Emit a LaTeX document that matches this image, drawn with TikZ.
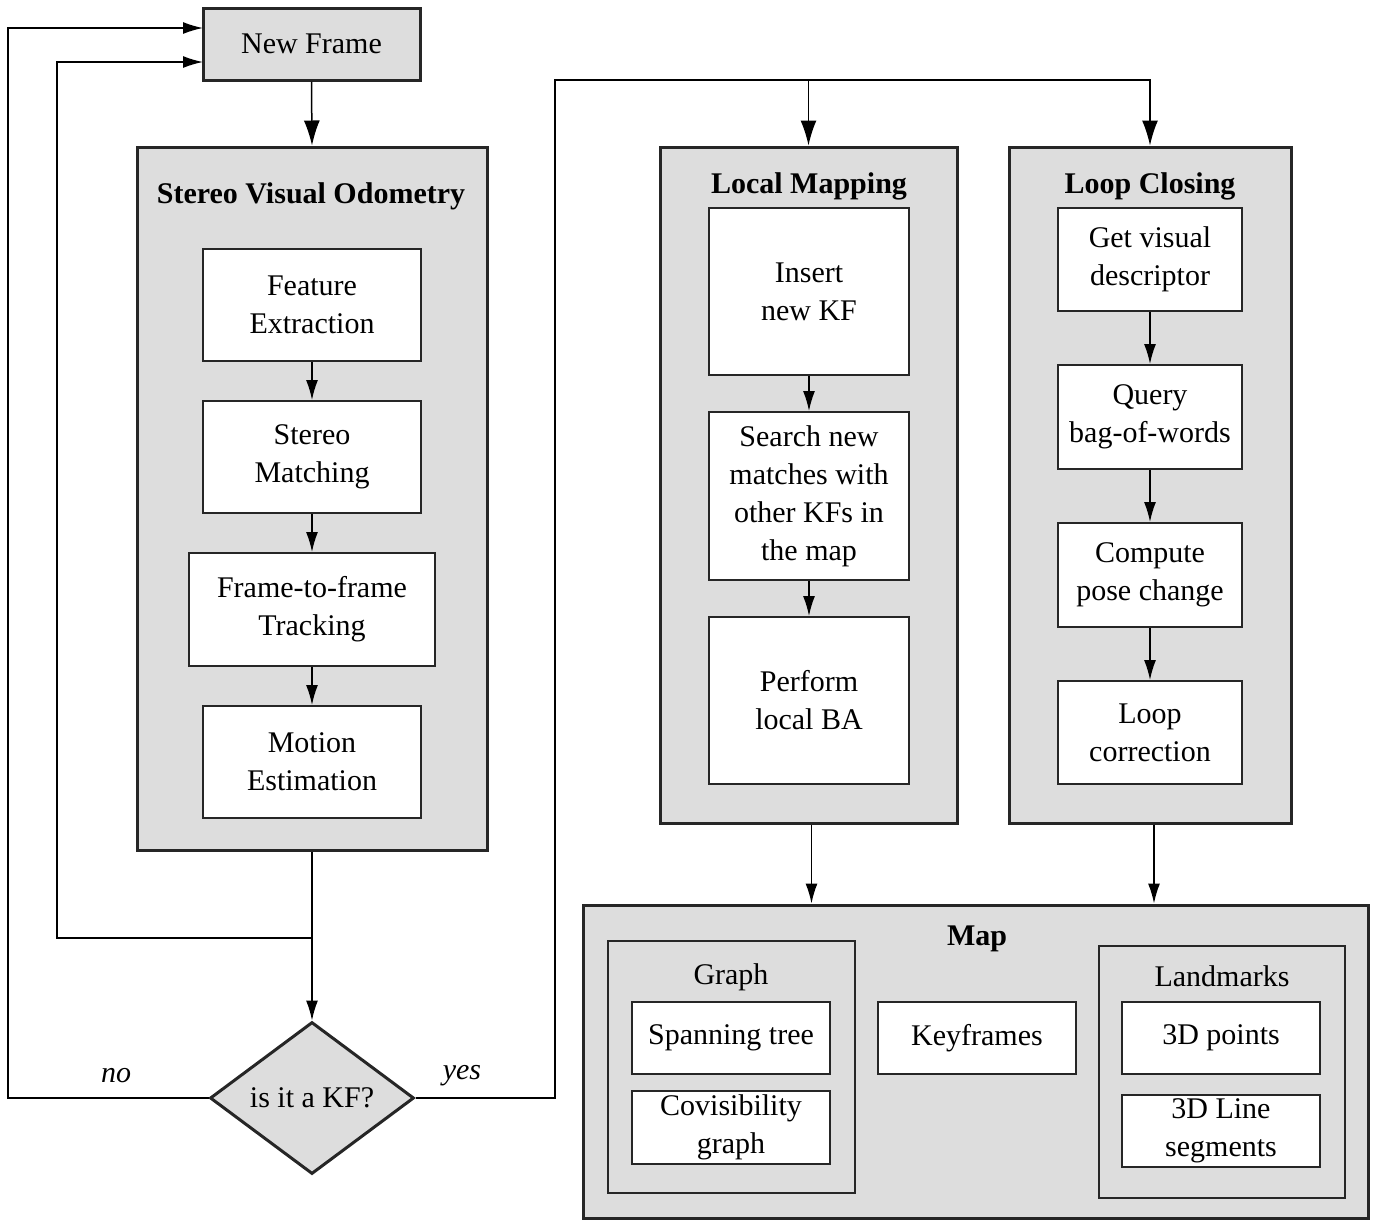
\documentclass[tikz,border=0pt]{standalone}
\usepackage{fontspec}
\setmainfont{Liberation Serif}
\usetikzlibrary{arrows.meta,shapes.geometric}
\definecolor{gf}{RGB}{221,221,221}
\definecolor{bd}{RGB}{38,38,38}
\newcommand\myfs{\fontsize{15}{19}\selectfont}
\begin{document}
\begin{tikzpicture}[x=0.5pt,y=0.5pt,
  font=\myfs,
  outerbox/.style={draw=bd, fill=gf, line width=1.5pt, inner sep=0},
  inbox/.style={draw=bd, fill=white, line width=1pt, inner sep=0, align=center},
  grpbox/.style={draw=bd, fill=gf, line width=1pt, inner sep=0},
  ttl/.style={font=\myfs\bfseries, inner sep=0},
  sttl/.style={inner sep=0},
  conn/.style={draw=black, line width=0.75pt},
  bigarr/.style={conn, -{Latex[length=12.5pt,width=8pt]}},
  smallarr/.style={conn, -{Latex[length=10pt,width=6pt]}},
  lbl/.style={font=\myfs\itshape, inner sep=0}
]
\useasboundingbox (0,0) rectangle (1378,-1228);

% left column
\node[outerbox, minimum width=108.5pt, minimum height=36pt] (nf) at (311.5,-44) {New Frame};
\node[outerbox, minimum width=175pt, minimum height=351.5pt] (svo) at (312,-498.5) {};
\node[ttl] (svot) at (311,-196) {Stereo Visual Odometry};
\node[inbox, minimum width=109pt, minimum height=56pt] (fe) at (312,-305) {Feature\\Extraction};
\node[inbox, minimum width=109pt, minimum height=56pt] (sm) at (312,-457) {Stereo\\Matching};
\node[inbox, minimum width=123pt, minimum height=56.5pt] (ft) at (312,-609.5) {Frame-to-frame\\Tracking};
\node[inbox, minimum width=109pt, minimum height=56pt] (me) at (312,-762) {Motion\\Estimation};
\node[diamond, draw=bd, fill=gf, line width=1.5pt, inner sep=0, aspect=1.34,
      minimum width=102pt, minimum height=76pt] (kf) at (312,-1098) {is it a KF?};

% local mapping
\node[outerbox, minimum width=148.5pt, minimum height=338pt] (lm) at (808.5,-485) {};
\node[ttl] (lmt) at (809,-186) {Local Mapping};
\node[inbox, minimum width=100pt, minimum height=83.5pt] (ik) at (809,-291.5) {Insert\\new KF};
\node[inbox, minimum width=100pt, minimum height=84pt] (sn) at (809,-496) {Search new\\matches with\\other KFs in\\the map};
\node[inbox, minimum width=100pt, minimum height=83.5pt] (ba) at (809,-700.5) {Perform\\local BA};

% loop closing
\node[outerbox, minimum width=141pt, minimum height=338pt] (lc) at (1150,-485) {};
\node[ttl] (lct) at (1150,-186) {Loop Closing};
\node[inbox, minimum width=92pt, minimum height=51.5pt] (gv) at (1150,-259.5) {Get visual\\descriptor};
\node[inbox, minimum width=92pt, minimum height=52pt] (qb) at (1150,-417) {Query\\bag-of-words};
\node[inbox, minimum width=92pt, minimum height=52pt] (cp) at (1150,-575) {Compute\\pose change};
\node[inbox, minimum width=92pt, minimum height=51.5pt] (lco) at (1150,-732.5) {Loop\\correction};

% map
\node[outerbox, minimum width=392.5pt, minimum height=156.5pt] (map) at (975.5,-1061.5) {};
\node[ttl] (mapt) at (977,-939) {Map};
\node[grpbox, minimum width=123.5pt, minimum height=126pt] (grp) at (731.5,-1067) {};
\node[sttl] (grpt) at (731,-977) {Graph};
\node[inbox, minimum width=99pt, minimum height=36pt] (st) at (731,-1038) {Spanning tree};
\node[inbox, minimum width=99pt, minimum height=36.5pt] (cg) at (731,-1127.5) {Covisibility\\graph};
\node[inbox, minimum width=99pt, minimum height=36pt] (kfr) at (977,-1038) {Keyframes};
\node[grpbox, minimum width=123pt, minimum height=126pt] (lmk) at (1222,-1072) {};
\node[sttl] (lmkt) at (1222,-976) {Landmarks};
\node[inbox, minimum width=99pt, minimum height=36pt] (p3) at (1221,-1038) {3D points};
\node[inbox, minimum width=99pt, minimum height=36pt] (l3) at (1221,-1131) {3D Line\\segments};

% labels
\node[lbl] (no) at (116,-1076) {no};
\node[lbl] (yes) at (462,-1076) {yes};

% coordinates
\coordinate (j) at (312,-938);
\coordinate (ilb) at (57,-938);
\coordinate (nfb) at (203,-62);
\coordinate (olb) at (8,-1098);
\coordinate (nfa) at (203,-28);
\coordinate (ya) at (555,-80);
\coordinate (yb) at (808.5,-80);

% connectors
\draw[bigarr] (nf.south) -- (svo.north);
\draw[smallarr] (fe.south) -- (sm.north);
\draw[smallarr] (sm.south) -- (ft.north);
\draw[smallarr] (ft.south) -- (me.north);
\draw[smallarr] (svo.south) -- (kf.north);
\draw[smallarr] (j) -- (ilb) |- (nfb);
\draw[smallarr] (kf.west) -- (olb) |- (nfa);
\draw[bigarr] (kf.east) -| (ya) -| (lc.north);
\draw[bigarr] (yb) -- (lm.north);
\draw[smallarr] (ik.south) -- (sn.north);
\draw[smallarr] (sn.south) -- (ba.north);
\draw[smallarr] (gv.south) -- (qb.north);
\draw[smallarr] (qb.south) -- (cp.north);
\draw[smallarr] (cp.south) -- (lco.north);
\draw[smallarr] ([xshift=1.5pt]lm.south) -- ([xshift=1.5pt]lm.south |- map.north);
\draw[smallarr] ([xshift=2pt]lc.south) -- ([xshift=2pt]lc.south |- map.north);
\end{tikzpicture}
\end{document}
